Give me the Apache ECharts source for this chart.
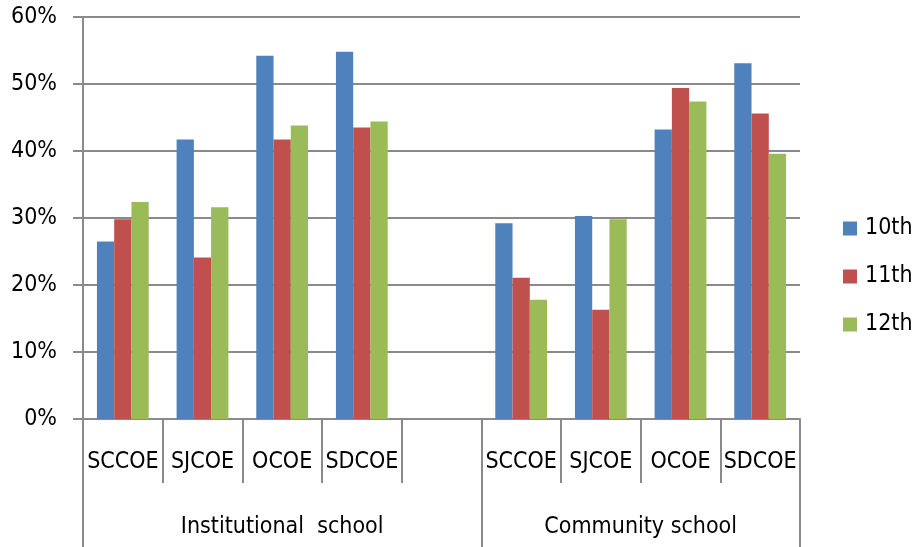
<!DOCTYPE html>
<html>
<head>
<meta charset="utf-8">
<script src="https://cdn.jsdelivr.net/npm/echarts@6/dist/echarts.min.js"></script>
<style>html,body{margin:0;padding:0;background:#fff;}#c{width:916px;height:547px;}</style>
</head>
<body>
<div id="c"></div>
<script>
var categories = ['SCCOE', 'SJCOE', 'OCOE', 'SDCOE', '', 'SCCOE', 'SJCOE', 'OCOE', 'SDCOE'];
var groups = ['Institutional  school', 'Community school'];
var groupSpans = [5, 4];
var seriesNames = ['10th', '11th', '12th'];
var s10 = [26.5, 41.7, 54.2, 54.8, null, 29.2, 30.3, 43.2, 53.1];
var s11 = [29.8, 24.1, 41.7, 43.5, null, 21.1, 16.3, 49.4, 45.6];
var s12 = [32.4, 31.6, 43.8, 44.4, null, 17.8, 29.8, 47.4, 39.6];
var yTicks = [0, 10, 20, 30, 40, 50, 60];

var colors = ['#4F81BD', '#C0504D', '#9BBB59'];
var font = '"Liberation Sans Narrow", "DejaVu Sans Condensed", "Liberation Sans", sans-serif';
var fs = 23;
var axisGray = '#8a8a8a';

var bounds = [0], centres = [];
groupSpans.forEach(function (s, i) { centres.push(bounds[i] + s / 2); bounds.push(bounds[i] + s); });

var chart = echarts.init(document.getElementById('c'));
chart.setOption({
  animation: false,
  color: colors,
  grid: { left: 83, right: 116, top: 17, bottom: 128, containLabel: false },
  legend: {
    orient: 'vertical',
    left: 838, top: 212,
    itemWidth: 14, itemHeight: 14, itemGap: 25,
    icon: 'rect',
    data: seriesNames,
    textStyle: { fontFamily: font, fontSize: fs, color: '#000', padding: [0, 0, 0, 3] }
  },
  xAxis: [{
    type: 'category',
    data: categories,
    position: 'bottom',
    axisLine: { lineStyle: { color: axisGray, width: 2 } },
    axisTick: { show: true, length: 64, lineStyle: { color: axisGray, width: 2 } },
    axisLabel: { fontFamily: font, fontSize: fs, color: '#000', margin: 32, interval: 0 }
  }, {
    type: 'value',
    min: 0, max: bounds[bounds.length - 1],
    position: 'bottom',
    splitLine: { show: false },
    axisLine: { show: false },
    axisTick: { show: true, length: 130, customValues: bounds, lineStyle: { color: axisGray, width: 2 } },
    axisLabel: {
      fontFamily: font, fontSize: fs, color: '#000', margin: 97,
      customValues: centres,
      formatter: function (v) { var i = centres.indexOf(v); return i >= 0 ? groups[i] : ''; }
    }
  }],
  yAxis: {
    type: 'value',
    min: yTicks[0], max: yTicks[yTicks.length - 1], interval: 10,
    axisLine: { show: true, lineStyle: { color: axisGray, width: 2 } },
    axisTick: { show: true, inside: false, length: 10, lineStyle: { color: axisGray, width: 2 } },
    splitLine: { show: true, lineStyle: { color: axisGray, width: 2 } },
    axisLabel: { fontFamily: font, fontSize: fs, color: '#000', margin: 26, formatter: '{value}%' }
  },
  series: [
    { name: seriesNames[0], type: 'bar', data: s10, barGap: '0%', barCategoryGap: '35%' },
    { name: seriesNames[1], type: 'bar', data: s11, barGap: '0%', barCategoryGap: '35%' },
    { name: seriesNames[2], type: 'bar', data: s12, barGap: '0%', barCategoryGap: '35%' }
  ]
});
</script>
</body>
</html>
